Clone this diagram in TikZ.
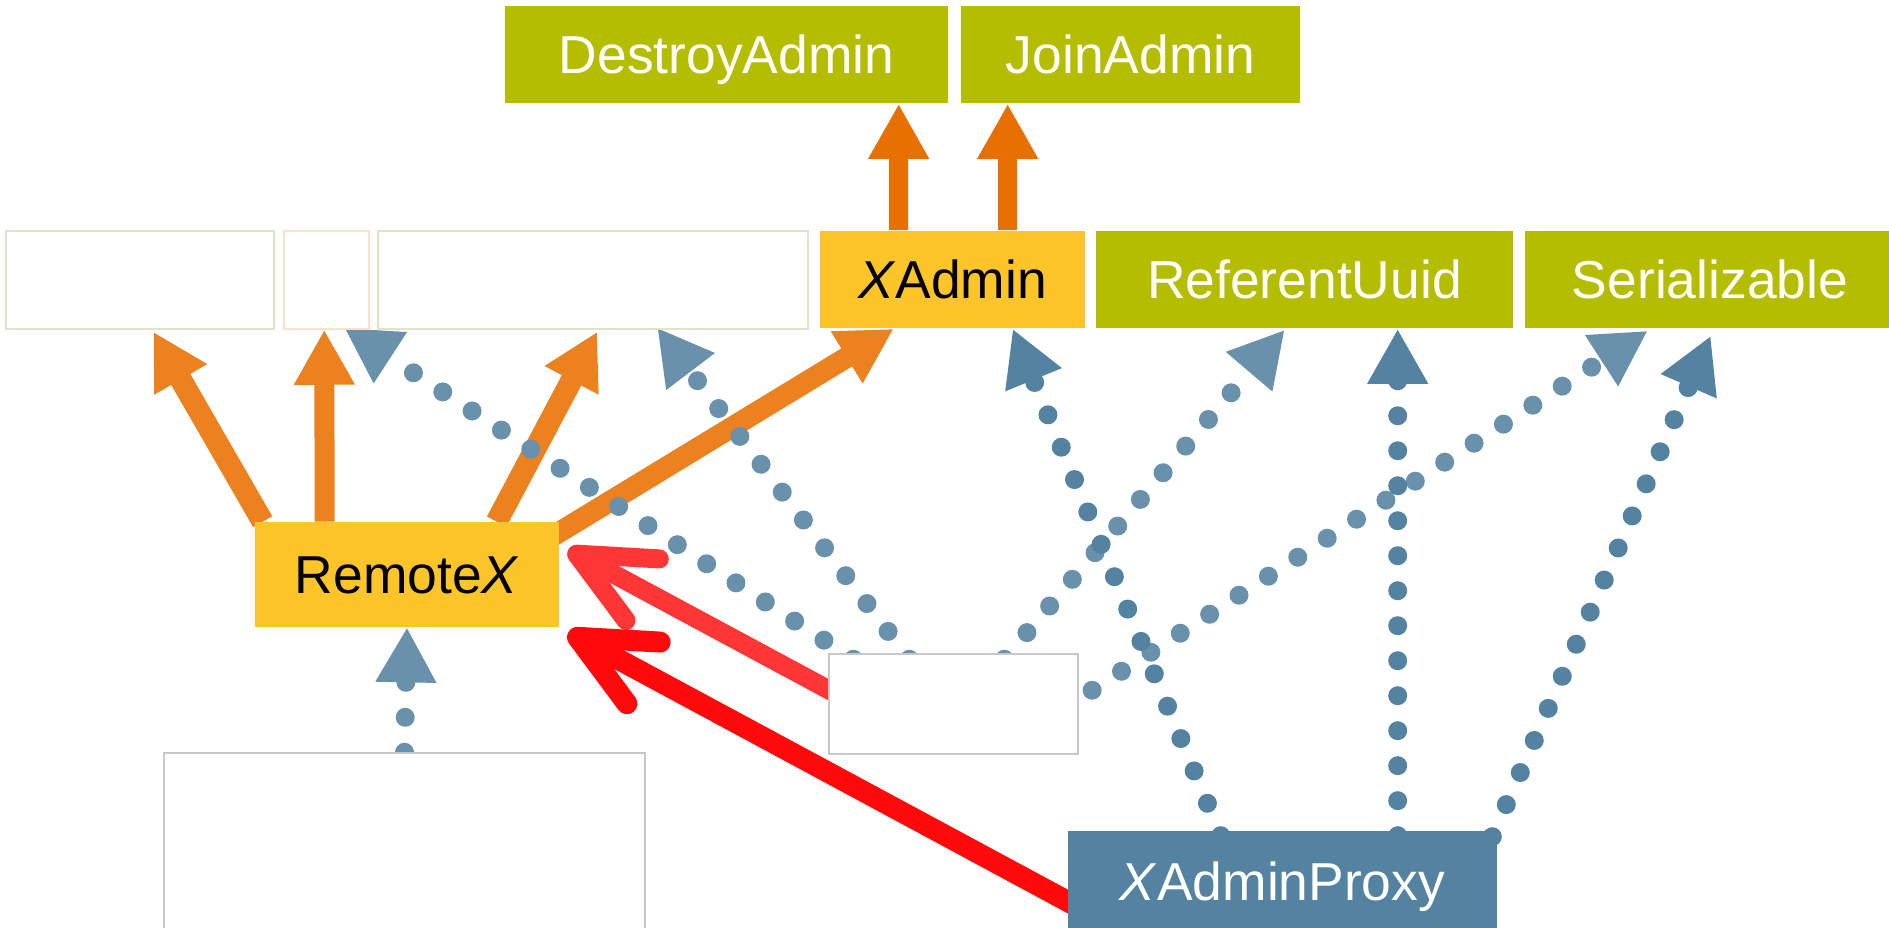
\documentclass[tikz,border=0pt]{standalone}
\usepackage{fontspec}
\setmainfont{Liberation Sans}
\usetikzlibrary{arrows.meta,calc,backgrounds}

\definecolor{ifacegreen}{HTML}{B5BD00}
\definecolor{implyellow}{HTML}{FDC52A}
\definecolor{proxyblue}{HTML}{5482A1}
\definecolor{inhorange}{HTML}{E87000}
\definecolor{callred}{HTML}{FF0A0A}
\definecolor{ghostkhaki}{HTML}{E2E2C6}
\definecolor{ghostpeach}{HTML}{FDE1CB}
\definecolor{ghostgray}{HTML}{C8C8C8}

\begin{document}
\begin{tikzpicture}[x=0.02cm,y=-0.02cm,
	box/.style={rectangle,inner sep=0pt,minimum height=1.96cm,text height=0.76cm,text depth=0pt,font=\fontsize{30.4}{36}\selectfont},
	iface/.style={box,fill=ifacegreen,text=white},
	impl/.style={box,fill=implyellow,text=black},
	proxybox/.style={box,fill=proxyblue,text=white},
	ghost/.style={box,fill=white,draw=#1,line width=0.03cm},
	inherit/.style={-{Triangle[length=1.1cm,width=1.14cm]},line width=0.38cm,draw=#1},
	realize/.style={-{Triangle[length=1.1cm,width=1.14cm]},line width=0.38cm,line cap=round,dash pattern=on 0pt off 0.7cm,draw=#1},
	invoke/.style={-{Straight Barb[length=1.5cm,width=1.4cm,round]},line width=0.38cm,line cap=round,draw=#1}]
	\useasboundingbox (0,0) rectangle (1889,927);
	\node[iface,minimum width=8.86cm] (destroy) at (726.5,54.5) {DestroyAdmin};
	\node[iface,minimum width=6.78cm] (join) at (1130.5,54.5) {JoinAdmin};
	\node[ghost=ghostkhaki,minimum width=5.36cm] (ghA) at (140,280) {};
	\node[ghost=ghostpeach,minimum width=1.7cm] (ghB) at (326.5,280) {};
	\node[ghost=ghostkhaki,minimum width=8.6cm] (ghC) at (593,280) {};
	\node[impl,minimum width=5.3cm] (xadmin) at (952.5,279.5) {\textit{X}Admin};
	\node[iface,minimum width=8.34cm] (refuuid) at (1304.5,279.5) {ReferentUuid};
	\node[iface,minimum width=7.4cm] (serial) at (1710,279.5) {Serializable};
	\node[impl,minimum width=6.08cm,minimum height=2.1cm] (remote) at (407,574.5) {Remote\textit{X}};
	\node[ghost=ghostgray,minimum width=4.98cm,minimum height=2cm] (ghD) at (953.5,704) {};
	\node[ghost=ghostgray,minimum width=9.62cm,minimum height=3.72cm] (ghE) at (404.5,846) {};
	\node[proxybox,minimum width=8.58cm,minimum height=2cm] (proxy) at (1282.5,881) {\textit{X}AdminProxy};
	\begin{scope}[on background layer]
		\draw[inherit=inhorange] ($(xadmin.north west)+(79,0)$) -- ($(destroy.south west)+(394,0)$);
		\draw[inherit=inhorange] ($(xadmin.north west)+(188,0)$) -- ($(join.south west)+(47,0)$);
		\draw[inherit=inhorange!88!white,line width=0.44cm] ($(remote.north west)+(8,0)$) -- ($(ghA.south west)+(148,2)$);
		\draw[inherit=inhorange!88!white,line width=0.4cm] ($(remote.north west)+(70,0)$) -- ($(ghB.south west)+(41,0)$);
		\draw[inherit=inhorange!88!white,line width=0.44cm] ($(remote.north west)+(242,0)$) -- ($(ghC.south west)+(220,2)$);
		\draw[inherit=inhorange!88!white,line width=0.42cm] ($(remote.north east)+(-9,16)$) -- ($(xadmin.south west)+(74,0)$);
		\draw[realize=proxyblue!88!white] ($(ghD.north west)+(25,6)$) -- ($(ghB.south west)+(61,-2)$);
		\draw[realize=proxyblue!88!white] ($(ghD.north west)+(81,6)$) -- ($(ghC.south west)+(280,-2)$);
		\draw[realize=proxyblue!88!white] ($(ghD.north west)+(176,6)$) -- ($(refuuid.south west)+(189,1)$);
		\draw[realize=proxyblue!88!white] ($(ghD.north east)+(-16,56)$) -- ($(serial.south west)+(123,2)$);
		\draw[realize=proxyblue!88!white] (ghE.north) -- (remote.south);
		\draw[realize=proxyblue] ($(proxy.north west)+(153,5)$) -- ($(xadmin.south west)+(193,0)$);
		\draw[realize=proxyblue] ($(proxy.north west)+(330,5)$) -- ($(refuuid.south west)+(302,0)$);
		\draw[realize=proxyblue] ($(proxy.north east)+(-5,6)$) -- ($(serial.south west)+(186,7)$);
		\draw[invoke=callred!82!white] ($(ghD.north west)+(31,53)$) -- ($(remote.north east)+(9,28)$);
		\draw[invoke=callred,line width=0.42cm] ($(proxy.north west)+(32,88)$) -- ($(remote.south east)+(9,5)$);
	\end{scope}
\end{tikzpicture}
\end{document}
